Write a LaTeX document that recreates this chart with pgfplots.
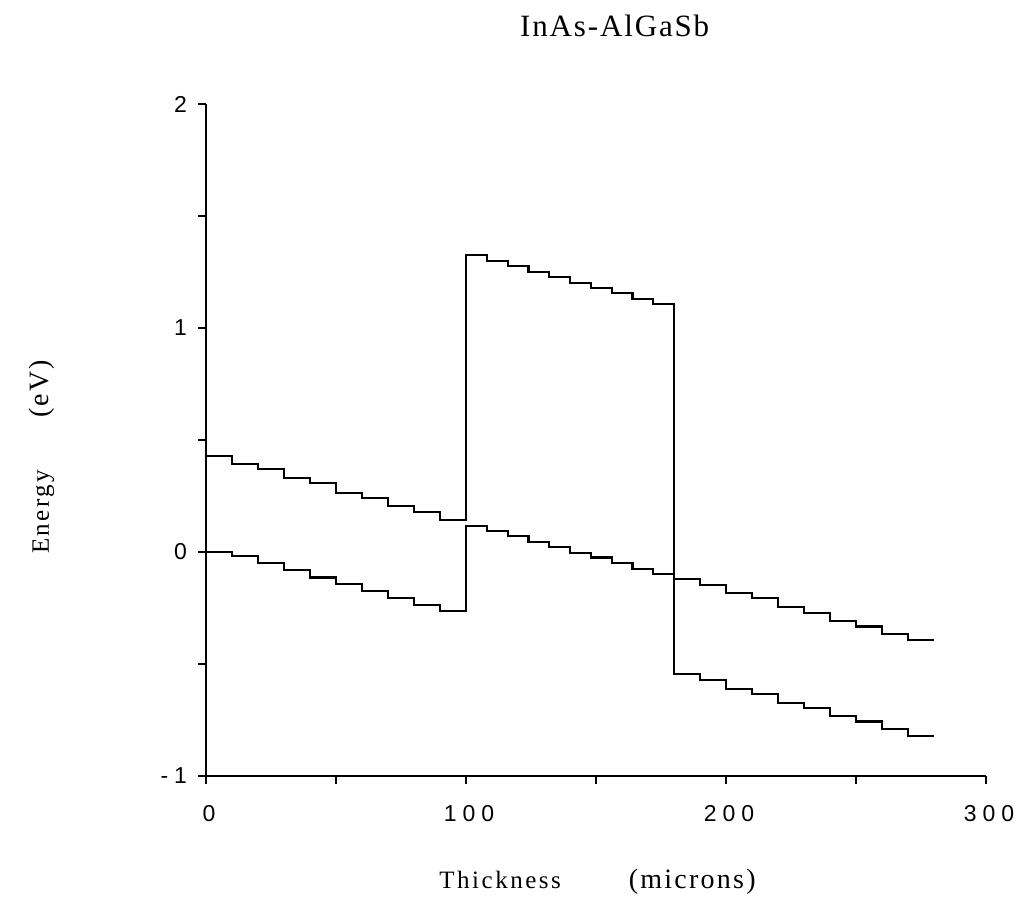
\documentclass[border=0pt]{standalone}
\usepackage{fontspec}
\setmainfont{Liberation Serif}
\newfontfamily\tickfont[LetterSpace=26]{Liberation Sans}
\newfontfamily\titlefont[LetterSpace=6]{Liberation Serif}
\newfontfamily\labelfont[LetterSpace=10]{Liberation Serif}
\newfontfamily\labelfontb[LetterSpace=8]{Liberation Serif}
\usepackage{pgfplots}
\pgfplotsset{compat=1.18}
\begin{document}
\begin{tikzpicture}
\useasboundingbox (0,0) rectangle (508pt,457.5pt);
\begin{axis}[
  at={(103pt,69.5pt)}, anchor=south west,
  scale only axis, width=390pt, height=336pt,
  xmin=0, xmax=300, ymin=-1, ymax=2,
  axis x line*=bottom, axis y line*=left,
  axis line style={-, line width=0.8pt},
  tick align=outside,
  major tick length=4pt, minor tick length=4pt,
  tick style={black, line width=0.8pt},
  xtick={0,100,200,300}, xticklabels={0,100,200,300},
  minor xtick={50,150,250},
  ytick={-1,0,1,2}, yticklabels={-1,0,1,2},
  minor ytick={-0.5,0.5,1.5},
  ticklabel style={font=\tickfont\fontsize{11.5}{13}\selectfont},
  xticklabel style={yshift=-7pt, xshift=1.5pt},
  yticklabel style={xshift=-2pt},
  title={InAs-AlGaSb},
  title style={at={(axis description cs:0.524,1.098)}, anchor=center, font=\titlefont\fontsize{15.5}{17}\selectfont},
  xlabel={{\labelfont\fontsize{12.5}{15}\selectfont Thickness}\hspace{34pt}{\labelfontb\fontsize{14}{16}\selectfont (microns)}},
  xlabel style={at={(axis description cs:0.502,-0.158)}, anchor=center},
  ylabel={{\labelfont\fontsize{12.5}{15}\selectfont Energy}\hspace{26pt}{\labelfontb\fontsize{14}{16}\selectfont (eV)}},
  ylabel style={at={(axis description cs:-0.21,0.475)}, anchor=center},
  clip=false,
]
% lower line
\addplot[const plot, black, line width=1.1pt] coordinates {
(0,0.000) (10,-0.018) (20,-0.049) (30,-0.080) (40,-0.114) (50,-0.143) (60,-0.174) (70,-0.205) (80,-0.236) (90,-0.263)
(100,0.116) (108,0.094) (116,0.071) (124,0.046) (132,0.022) (140,-0.003) (148,-0.025) (156,-0.050) (164,-0.075) (172,-0.100)
(180,-0.546) (190,-0.571) (200,-0.610) (210,-0.635) (220,-0.673) (230,-0.695) (240,-0.732) (250,-0.757) (260,-0.789) (270,-0.821) (280,-0.821)
};
% upper line
\addplot[const plot, black, line width=1.1pt] coordinates {
(0,0.429) (10,0.394) (20,0.369) (30,0.332) (40,0.307) (50,0.265) (60,0.242) (70,0.205) (80,0.180) (90,0.143)
(100,1.326) (108,1.299) (116,1.277) (124,1.251) (132,1.229) (140,1.202) (148,1.177) (156,1.155) (164,1.131) (172,1.108)
(180,-0.119) (190,-0.147) (200,-0.184) (210,-0.207) (220,-0.244) (230,-0.271) (240,-0.308) (250,-0.333) (260,-0.367) (270,-0.394) (280,-0.394)
};
\end{axis}
\end{tikzpicture}
\end{document}
